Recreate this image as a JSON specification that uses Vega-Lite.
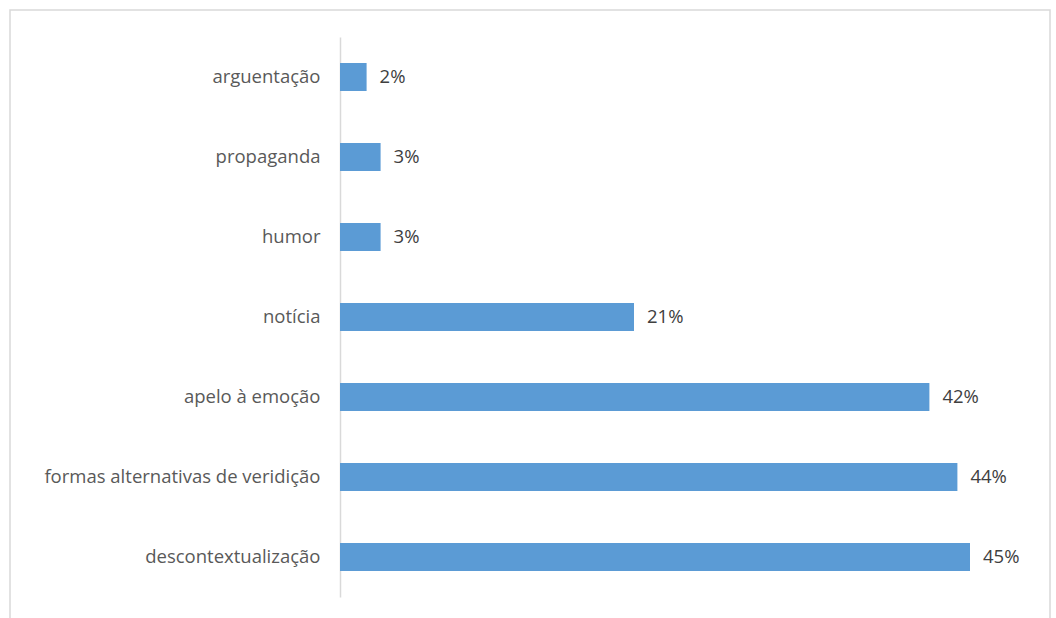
{
  "$schema": "https://vega.github.io/schema/vega-lite/v6.json",
  "width": 1040,
  "height": 620,
  "autosize": {"type": "none"},
  "padding": {"left": 10, "top": 10, "right": 6, "bottom": 0},
  "background": "white",
  "config": {
    "view": {"stroke": "#D9D9D9", "strokeWidth": 1.5},
    "font": "Open Sans"
  },
  "data": {
    "values": [
      {"cat": "arguentação", "v": 1.9, "label": "2%"},
      {"cat": "propaganda", "v": 2.9, "label": "3%"},
      {"cat": "humor", "v": 2.9, "label": "3%"},
      {"cat": "notícia", "v": 21, "label": "21%"},
      {"cat": "apelo à emoção", "v": 42.1, "label": "42%"},
      {"cat": "formas alternativas de veridição", "v": 44.1, "label": "44%"},
      {"cat": "descontextualização", "v": 45, "label": "45%"}
    ]
  },
  "encoding": {
    "y": {
      "field": "cat",
      "type": "nominal",
      "sort": null,
      "scale": {"range": [27, 587], "paddingInner": 0.65, "paddingOuter": 0.325},
      "axis": {
        "title": null,
        "offset": -330,
        "ticks": false,
        "domainColor": "#D9D9D9",
        "domainWidth": 1.5,
        "labelFontSize": 18.5,
        "labelColor": "#595959",
        "labelPadding": 20,
        "labelFont": "Open Sans",
        "labelLimit": 400
      }
    },
    "x": {
      "field": "v",
      "type": "quantitative",
      "scale": {"domain": [0, 50], "range": [330, 1030]},
      "axis": null
    }
  },
  "layer": [
    {"mark": {"type": "bar", "color": "#5B9BD5"}},
    {
      "mark": {"type": "text", "align": "left", "dx": 13, "fontSize": 18.5, "color": "#404040", "font": "Open Sans"},
      "encoding": {"text": {"field": "label"}}
    }
  ]
}
